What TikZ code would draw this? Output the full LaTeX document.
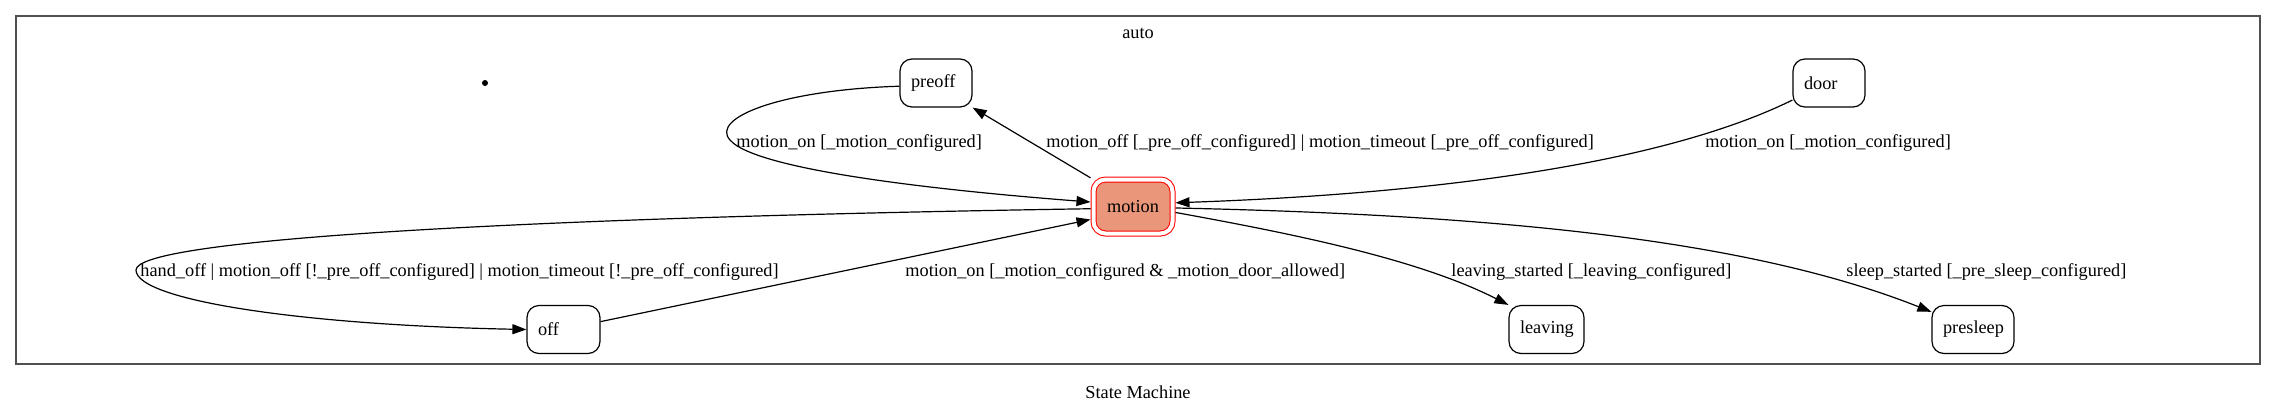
\documentclass[tikz,border=0pt]{standalone}
\usepackage{fontspec}
\setmainfont{Liberation Serif}
\usetikzlibrary{arrows.meta}
\definecolor{dsalmon}{RGB}{233,150,122}
\definecolor{clgray}{RGB}{80,80,80}
\begin{document}
\begin{tikzpicture}[x=0.5pt,y=-0.5pt,
  every node/.style={font=\fontsize{9.15pt}{11pt}\selectfont},
  state/.style={draw, rounded corners=6pt, minimum height=24pt, inner xsep=5.5pt, inner ysep=0pt, align=left, line width=0.6pt},
  arr/.style={-{Triangle[length=7pt,width=5pt]}, line width=0.6pt},
  lbl/.style={anchor=west, inner sep=0pt}]
\useasboundingbox (0,0) rectangle (2276,413);
% cluster
\draw[clgray, line width=0.8pt] (16,16) rectangle (2260,364);
\node (auto) at (1138,33) {auto};
\node (title) at (1138,392) {State Machine};
% states
\node[circle, fill, inner sep=0pt, minimum size=3pt] (init) at (485,83) {};
\node[state, text width=25pt] (preoff) at (936,83) {preoff};
\node[state, text width=25pt] (door) at (1829,83) {door};
\node[draw=red, double=white, double distance=2pt, fill=dsalmon, rounded corners=6pt, minimum width=39.5pt, minimum height=27pt, inner sep=0pt, outer sep=1.5pt, line width=0.5pt] (motion) at (1133,206.5) {motion};
\node[state, text width=25.5pt] (off) at (563.5,329.5) {off};
\node[state, text width=26.5pt] (leaving) at (1546.5,329.5) {leaving};
\node[state, text width=30pt] (presleep) at (1973,329.5) {presleep};
% transitions
\draw[arr] (preoff.185) .. controls (780,90) and (710,118) .. (730,140) .. controls (760,175) and (1000,195) .. (motion.174);
\draw[arr] (motion.146) -- (preoff.south east);
\draw[arr] (door.205) .. controls (1650,170) and (1400,195) .. (motion.5);
\draw[arr] (motion.183) .. controls (500,218) and (136,240) .. (136,270) .. controls (136,300) and (300,325) .. (off.west);
\draw[arr] (off.12) -- (motion.197);
\draw[arr] (motion.-8) .. controls (1300,235) and (1420,260) .. (leaving.north west);
\draw[arr] (motion.-2) .. controls (1500,215) and (1750,240) .. (presleep.157);
% labels
\node[lbl] (l1) at (736,143) {motion\_on [\_motion\_configured]};
\node[lbl] (l2) at (1046,143) {motion\_off [\_pre\_off\_configured] | motion\_timeout [\_pre\_off\_configured]};
\node[lbl] (l3) at (1705,143) {motion\_on [\_motion\_configured]};
\node[lbl] (l4) at (140,272) {hand\_off | motion\_off [!\_pre\_off\_configured] | motion\_timeout [!\_pre\_off\_configured]};
\node[lbl] (l5) at (905,272) {motion\_on [\_motion\_configured \& \_motion\_door\_allowed]};
\node[lbl] (l6) at (1451,272) {leaving\_started [\_leaving\_configured]};
\node[lbl] (l7) at (1846,272) {sleep\_started [\_pre\_sleep\_configured]};
\end{tikzpicture}
\end{document}
